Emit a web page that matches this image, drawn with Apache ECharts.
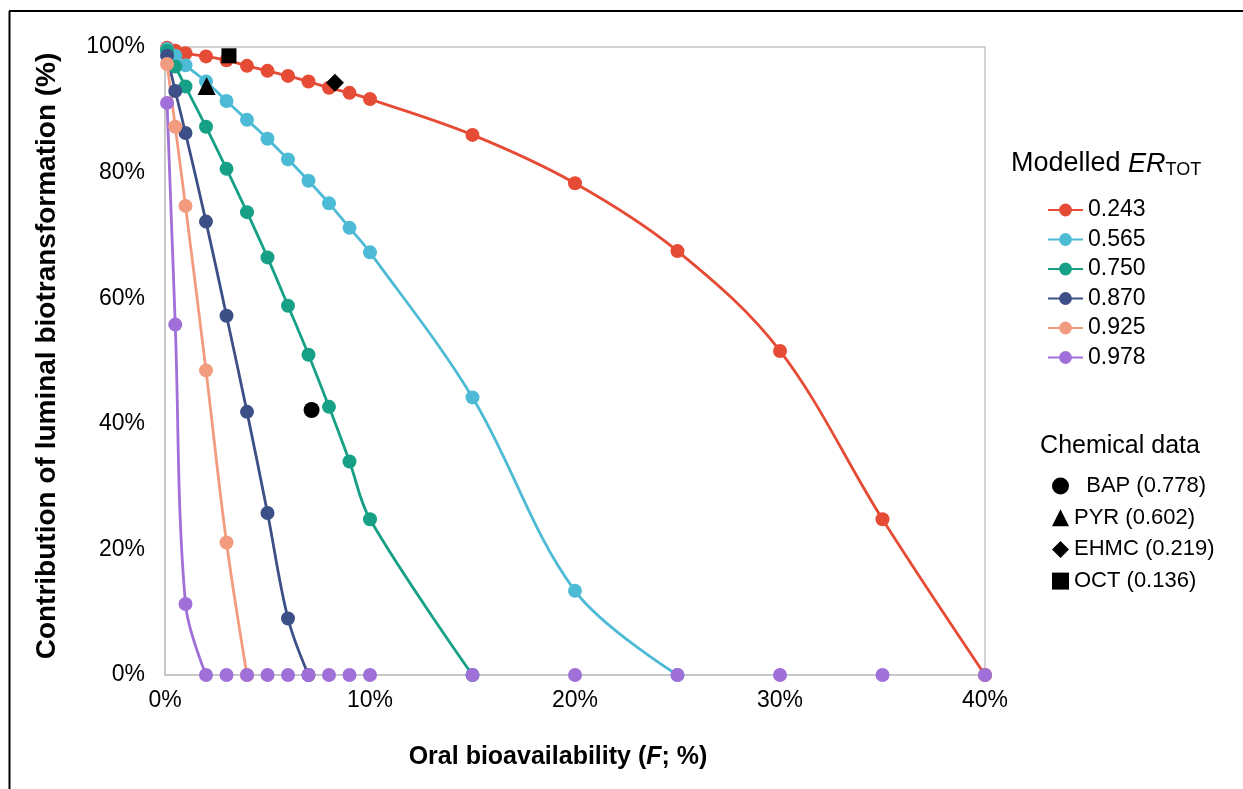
<!DOCTYPE html>
<html>
<head>
<meta charset="utf-8">
<script src="https://cdn.jsdelivr.net/npm/echarts@6/dist/echarts.min.js"></script>
<style>
  html, body { margin: 0; padding: 0; background: #fff; }
  #main { width: 1243px; height: 789px; }
</style>
</head>
<body>
<div id="main"></div>
<script>
// oral bioavailability F (%) at which each curve was evaluated
const fValues = [0.1, 0.5, 1, 2, 3, 4, 5, 6, 7, 8, 9, 10, 15, 20, 25, 30, 35, 40];

// contribution of luminal biotransformation (%) per modelled ER_TOT
const erNames = ['0.243', '0.565', '0.750', '0.870', '0.925', '0.978'];
const er243 = [99.9, 99.4, 99.0, 98.5, 97.9, 97.0, 96.2, 95.4, 94.5, 93.5, 92.7, 91.7, 86.0, 78.3, 67.5, 51.6, 24.8, 0];
const er565 = [99.7, 98.6, 97.1, 94.5, 91.4, 88.4, 85.4, 82.1, 78.7, 75.1, 71.2, 67.3, 44.2, 13.4, 0, 0, 0, 0];
const er750 = [99.4, 96.9, 93.7, 87.3, 80.6, 73.7, 66.5, 58.8, 51.0, 42.7, 34.0, 24.8, 0, 0, 0, 0, 0, 0];
const er870 = [98.6, 93.0, 86.3, 72.2, 57.2, 41.9, 25.8, 9.0, 0, 0, 0, 0, 0, 0, 0, 0, 0, 0];
const er925 = [97.3, 87.3, 74.7, 48.5, 21.1, 0, 0, 0, 0, 0, 0, 0, 0, 0, 0, 0, 0, 0];
const er978 = [91.1, 55.8, 11.3, 0, 0, 0, 0, 0, 0, 0, 0, 0, 0, 0, 0, 0, 0, 0];
const erColors = ['#E64B35', '#4DBBD5', '#16A085', '#3C4F86', '#F39B7F', '#A06FD8'];

// chemical data points
const chemNames = ['  BAP (0.778)', 'PYR (0.602)', 'EHMC (0.219)', 'OCT (0.136)'];
const chemF = [7.15, 2.03, 8.29, 3.12];
const chemContrib = [42.2, 93.8, 94.3, 98.6];
const chemSymbols = ['circle', 'triangle', 'diamond', 'rect'];
const chemSizes = [16, 18, 18, 15];

const xTicks = [0, 10, 20, 30, 40];
const yTicks = [0, 20, 40, 60, 80, 100];

const FONT = 'Liberation Sans, Arial, sans-serif';
const erSeriesValues = [er243, er565, er750, er870, er925, er978];

const series = [];
erSeriesValues.forEach(function (vals, i) {
  // line runs until the curve first reaches zero
  let firstZero = vals.indexOf(0);
  if (firstZero < 0) firstZero = vals.length - 1;
  series.push({
    name: erNames[i],
    type: 'line',
    smooth: 0.35,
    symbol: 'circle',
    symbolSize: 14,
    showSymbol: true,
    animation: false,
    clip: false,
    z: 2,
    lineStyle: { color: erColors[i], width: 2.8 },
    itemStyle: { color: erColors[i], opacity: 1 },
    data: fValues.slice(0, firstZero + 1).map(function (f, k) { return [f, vals[k]]; })
  });
});
// remaining zero points of the last curve sit on the x axis without a line
series.push({
  name: erNames[5],
  type: 'scatter',
  symbol: 'circle',
  symbolSize: 14,
  animation: false,
  clip: false,
  z: 4,
  itemStyle: { color: erColors[5], opacity: 1 },
  data: fValues.map(function (f, k) { return [f, er978[k]]; })
    .filter(function (p, k) { return k > er978.indexOf(0); })
});
chemNames.forEach(function (n, i) {
  series.push({
    name: n,
    type: 'scatter',
    symbol: chemSymbols[i],
    symbolSize: chemSizes[i],
    animation: false,
    clip: false,
    z: 5,
    itemStyle: { color: '#000', opacity: 1 },
    data: [[chemF[i], chemContrib[i]]]
  });
});

const chart = echarts.init(document.getElementById('main'), null, { renderer: 'canvas' });
chart.setOption({
  backgroundColor: '#fff',
  animation: false,
  textStyle: { fontFamily: FONT },
  grid: {
    left: 165, right: 258, top: 47, bottom: 114,
    show: true, borderColor: '#c4c4c4', borderWidth: 1.5, backgroundColor: '#fff'
  },
  xAxis: {
    type: 'value', min: xTicks[0], max: xTicks[xTicks.length - 1], interval: 10,
    axisLine: { show: true, lineStyle: { color: '#c4c4c4', width: 1.5 } },
    axisTick: { show: false },
    splitLine: { show: false },
    axisLabel: { formatter: '{value}%', color: '#000', fontSize: 23, fontFamily: FONT, margin: 14 }
  },
  yAxis: {
    type: 'value', min: yTicks[0], max: yTicks[yTicks.length - 1], interval: 20,
    axisLine: { show: true, lineStyle: { color: '#c4c4c4', width: 1.5 } },
    axisTick: { show: false },
    splitLine: { show: false },
    axisLabel: { formatter: '{value}%', color: '#000', fontSize: 23, fontFamily: FONT, margin: 20 }
  },
  legend: [{
    data: erNames,
    orient: 'vertical',
    left: 1047, top: 198, padding: 0,
    itemWidth: 35, itemHeight: 16, itemGap: 5.5,
    textStyle: { fontSize: 23, color: '#000', fontFamily: FONT, lineHeight: 24 }
  }, {
    data: chemNames.map(function (n, i) { return { name: n, icon: chemSymbols[i] }; }),
    orient: 'vertical',
    left: 1052, top: 475, padding: 0,
    itemWidth: 17, itemHeight: 17, itemGap: 9.7,
    textStyle: { fontSize: 22, color: '#000', fontFamily: FONT, lineHeight: 22 }
  }],
  graphic: [
    { type: 'line', shape: { x1: 9.5, y1: 11, x2: 9.5, y2: 789 }, style: { stroke: '#000', lineWidth: 2 } },
    { type: 'line', shape: { x1: 9, y1: 11, x2: 1243, y2: 11 }, style: { stroke: '#000', lineWidth: 2 } },
    {
      type: 'text', x: 558, y: 757,
      style: {
        text: '{b|Oral bioavailability (}{i|F}{b|; %)}',
        align: 'center', verticalAlign: 'middle',
        rich: {
          b: { fontSize: 25, fontWeight: 'bold', fontFamily: FONT, fill: '#000' },
          i: { fontSize: 25, fontWeight: 'bold', fontStyle: 'italic', fontFamily: FONT, fill: '#000' }
        }
      }
    },
    {
      type: 'text', x: 47, y: 356, rotation: Math.PI / 2,
      style: {
        text: 'Contribution of luminal biotransformation (%)',
        align: 'center', verticalAlign: 'middle',
        fontSize: 28, fontWeight: 'bold', fontFamily: FONT, fill: '#000'
      }
    },
    {
      type: 'text', x: 1011, y: 164,
      style: {
        text: '{a|Modelled }{e|ER}{s|TOT}',
        align: 'left', verticalAlign: 'middle',
        rich: {
          a: { fontSize: 27, fontFamily: FONT, fill: '#000', lineHeight: 30 },
          e: { fontSize: 27, fontStyle: 'italic', fontFamily: FONT, fill: '#000', lineHeight: 30 },
          s: { fontSize: 18, fontFamily: FONT, fill: '#000', lineHeight: 14, verticalAlign: 'bottom' }
        }
      }
    },
    {
      type: 'text', x: 1120, y: 446,
      style: {
        text: 'Chemical data', align: 'center', verticalAlign: 'middle',
        fontSize: 25, fontFamily: FONT, fill: '#000'
      }
    }
  ],
  series: series
});
</script>
</body>
</html>
